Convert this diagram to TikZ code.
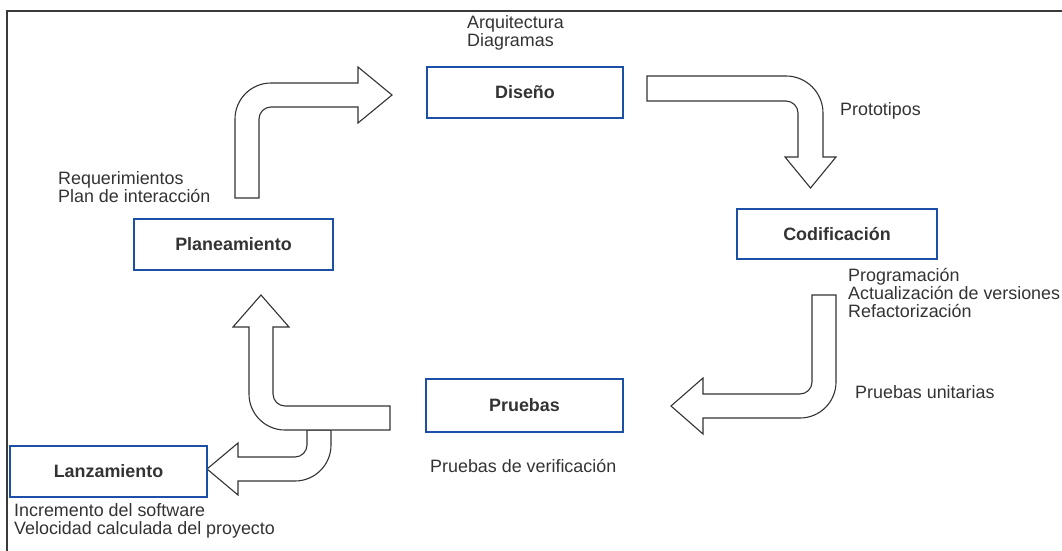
\documentclass[tikz,border=0pt]{standalone}
\usepackage{fontspec}
\setmainfont{Liberation Sans}
\definecolor{boxblue}{HTML}{1C4FA6}
\definecolor{ink}{HTML}{333333}
\definecolor{framegray}{HTML}{3A3A3A}
\begin{document}
\begin{tikzpicture}[x=1pt,y=-1pt,
  phase/.style={draw=boxblue, line width=2pt, fill=white, text=ink,
    font=\fontsize{17.9}{18.3}\selectfont\bfseries, inner sep=0pt},
  note/.style={text=ink, font=\fontsize{17.9}{18.3}\selectfont, inner sep=0pt, align=left},
  flow/.style={draw=ink, line width=1.1pt, fill=white, line join=miter}]
\useasboundingbox (0,0) rectangle (1062,551);

% frame
\draw[framegray, line width=2pt] (1062,11) -- (7,11) -- (7,551);

% block arrows
% Planeamiento -> Diseño
\path[flow] (235,198) -- (235,119) .. controls (235,99.1) and (251.1,83) .. (271,83)
  -- (358,83) -- (358,67) -- (392,95) -- (358,123) -- (358,107) -- (271,107)
  .. controls (264.4,107) and (259,112.4) .. (259,119) -- (259,198) -- cycle;
% Diseño -> Codificación
\path[flow] (647,76) -- (786,76) .. controls (806.4,76) and (823,92.6) .. (823,113)
  -- (823,157) -- (836,157) -- (810.5,188) -- (785,157) -- (798,157) -- (798,113)
  .. controls (798,106.4) and (792.6,101) .. (786,101) -- (647,101) -- cycle;
% Codificación -> Pruebas
\path[flow] (812,295) -- (836,295) -- (836,382) .. controls (836,401.9) and (819.9,418) .. (800,418)
  -- (703,418) -- (703,434) -- (671,406) -- (703,378) -- (703,394) -- (800,394)
  .. controls (806.6,394) and (812,388.6) .. (812,382) -- cycle;
% Pruebas -> Lanzamiento
\path[flow] (307,430) -- (307,445) .. controls (307,451.6) and (301.6,457) .. (295,457)
  -- (238,457) -- (238,443) -- (207,469) -- (238,495) -- (238,481) -- (295,481)
  .. controls (314.9,481) and (331,464.9) .. (331,445) -- (331,430) -- cycle;
% Pruebas -> Planeamiento
\path[flow] (390,406) -- (285,406) .. controls (278.4,406) and (273,400.6) .. (273,394)
  -- (273,327) -- (289,327) -- (261,295) -- (233,327) -- (249,327) -- (249,394)
  .. controls (249,413.9) and (265.1,430) .. (285,430) -- (390,430) -- cycle;

% phases
\node[phase, minimum width=199pt, minimum height=51pt] (plan) at (233.5,244.5) {Planeamiento};
\node[phase, minimum width=196pt, minimum height=51pt] (dis)  at (525,92.5) {Diseño};
\node[phase, minimum width=200pt, minimum height=50pt] (cod)  at (837,234) {Codificación};
\node[phase, minimum width=197pt, minimum height=53pt] (pru)  at (524.5,405.5) {Pruebas};
\node[phase, minimum width=197pt, minimum height=51pt] (lan)  at (108.5,471.5) {Lanzamiento};

% notes
\node[note, anchor=north west] (ndis) at (467,15) {Arquitectura\\Diagramas};
\node[note, anchor=base west] (nproto) at (840,115) {Prototipos};
\node[note, anchor=north west] (nplan) at (58,171) {Requerimientos\\Plan de interacción};
\node[note, anchor=north west] (ncod) at (848,268) {Programación\\Actualización de versiones\\Refactorización};
\node[note, anchor=base west] (nunit) at (855,398) {Pruebas unitarias};
\node[note, anchor=base west] (nver) at (430,472) {Pruebas de verificación};
\node[note, anchor=north west] (nlan) at (14,503) {Incremento del software\\Velocidad calculada del proyecto};
\end{tikzpicture}
\end{document}
